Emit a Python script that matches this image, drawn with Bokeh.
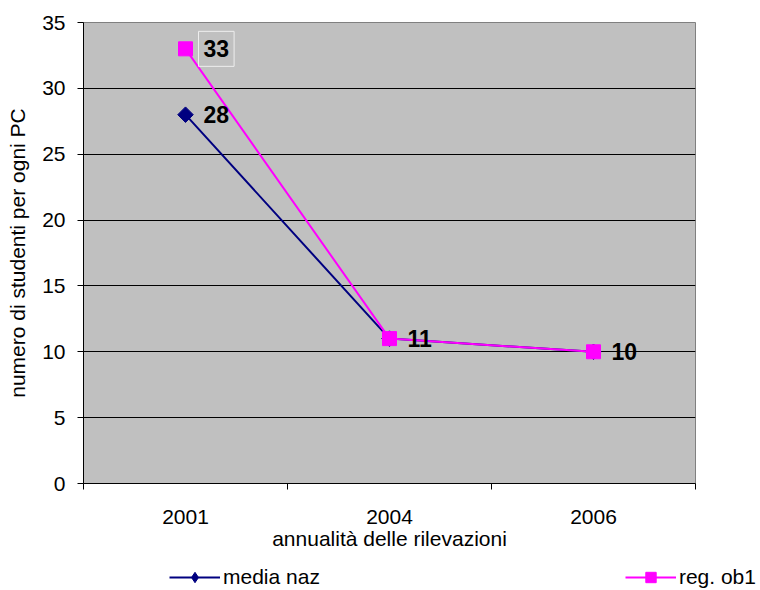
import numpy as np
from bokeh.plotting import figure
from bokeh.models import Range1d, FixedTicker, Legend, LegendItem, ColumnDataSource
from bokeh.embed import file_html
from bokeh.resources import INLINE
from bokeh.core.properties import value

years = ["2001", "2004", "2006"]
media_naz = [28, 11, 10]
reg_ob1 = [33, 11, 10]
y_ticks = [0, 5, 10, 15, 20, 25, 30, 35]
grid_ticks = [5, 10, 15, 20, 25, 30]

FONT = "Liberation Sans"
NAVY = "#000080"
MAGENTA = "#FF00FF"
xs = [i + 0.5 for i in range(len(years))]

p = figure(frame_width=612, frame_height=461, output_backend="svg", toolbar_location=None,
           x_range=Range1d(0, len(years)), y_range=Range1d(0, 35),
           min_border_left=83, min_border_top=22, min_border_right=50, min_border_bottom=80)
p.background_fill_color = "#C0C0C0"
p.border_fill_color = "white"
p.outline_line_color = "#808080"

p.xgrid.grid_line_color = None
p.ygrid.grid_line_color = "black"
p.ygrid.grid_line_width = 1
p.ygrid.ticker = FixedTicker(ticks=grid_ticks)

p.yaxis.ticker = FixedTicker(ticks=y_ticks)
p.xaxis.ticker = FixedTicker(ticks=xs, minor_ticks=list(range(len(years) + 1)))
p.xaxis.major_label_overrides = {x: y for x, y in zip(xs, years)}
for ax in (p.xaxis, p.yaxis):
    ax.axis_line_color = "black"
    ax.major_label_text_font = FONT
    ax.major_label_text_font_size = "21px"
    ax.major_label_text_color = "black"
    ax.axis_label_text_font = FONT
    ax.axis_label_text_font_size = "21px"
    ax.axis_label_text_font_style = "normal"
    ax.axis_label_text_color = "black"
p.yaxis.major_tick_out = 6
p.yaxis.major_tick_in = 0
p.yaxis.minor_tick_out = 0
p.yaxis.minor_tick_in = 0
p.yaxis.major_label_standoff = 12
p.yaxis.axis_label_standoff = 10
p.xaxis.major_tick_out = 0
p.xaxis.major_tick_in = 0
p.xaxis.minor_tick_out = 6
p.xaxis.minor_tick_in = 0
p.xaxis.minor_tick_line_color = "black"
p.xaxis.major_label_standoff = 20
p.xaxis.axis_label_standoff = 0
p.xaxis.axis_label = "annualità delle rilevazioni"
p.yaxis.axis_label = "numero di studenti per ogni PC"

p.line(xs, media_naz, line_color=NAVY, line_width=2)
p.scatter(xs, media_naz, marker="square", angle=np.pi / 4, size=11, fill_color=NAVY, line_color=NAVY)
p.line(xs, reg_ob1, line_color=MAGENTA, line_width=2)
p.scatter(xs, reg_ob1, marker="square", size=14, fill_color=MAGENTA, line_color=MAGENTA)

# data labels
lab_src = ColumnDataSource(dict(x=xs, y=media_naz, t=[str(v) for v in media_naz]))
p.text(x="x", y="y", text="t", source=lab_src, x_offset=18, text_baseline="middle",
       text_font=value(FONT), text_font_size="23px", text_font_style="bold", text_color="black")
p.text(x=[xs[0]], y=[reg_ob1[0]], text=[str(reg_ob1[0])], x_offset=13, text_baseline="middle",
       text_font=value(FONT), text_font_size="23px", text_font_style="bold", text_color="black",
       border_line_color="#EEEEEE", border_line_width=1, padding=(5, 9))

# legend strip below the chart (series redrawn outside its visible range, only the legend shows)
p2 = figure(width=758, height=27, output_backend="svg", toolbar_location=None,
            x_range=Range1d(0, len(years)), y_range=Range1d(36, 37),
            x_axis_type=None, y_axis_type=None, min_border=0)
p2.outline_line_color = None
p2.grid.grid_line_color = None
p2.border_fill_color = "white"
p2.background_fill_color = "white"
g1 = p2.line(xs, media_naz, line_color=NAVY, line_width=2)
k1 = p2.scatter(xs, media_naz, marker="diamond", size=14, fill_color=NAVY, line_color=NAVY)
g2 = p2.line(xs, reg_ob1, line_color=MAGENTA, line_width=2)
k2 = p2.scatter(xs, reg_ob1, marker="square", size=14, fill_color=MAGENTA, line_color=MAGENTA)
legend = Legend(items=[LegendItem(label="media naz", renderers=[g1, k1]),
                       LegendItem(label="reg. ob1", renderers=[g2, k2])],
                orientation="horizontal", spacing=305, location=(169, 0),
                border_line_alpha=0, background_fill_alpha=0,
                label_text_font=FONT, label_text_font_size="21px", label_text_color="black",
                glyph_width=51, glyph_height=26, label_height=26,
                label_standoff=3, margin=0, padding=0)
p2.add_layout(legend, "center")

open("out.html", "w").write(file_html([p, p2], INLINE))
